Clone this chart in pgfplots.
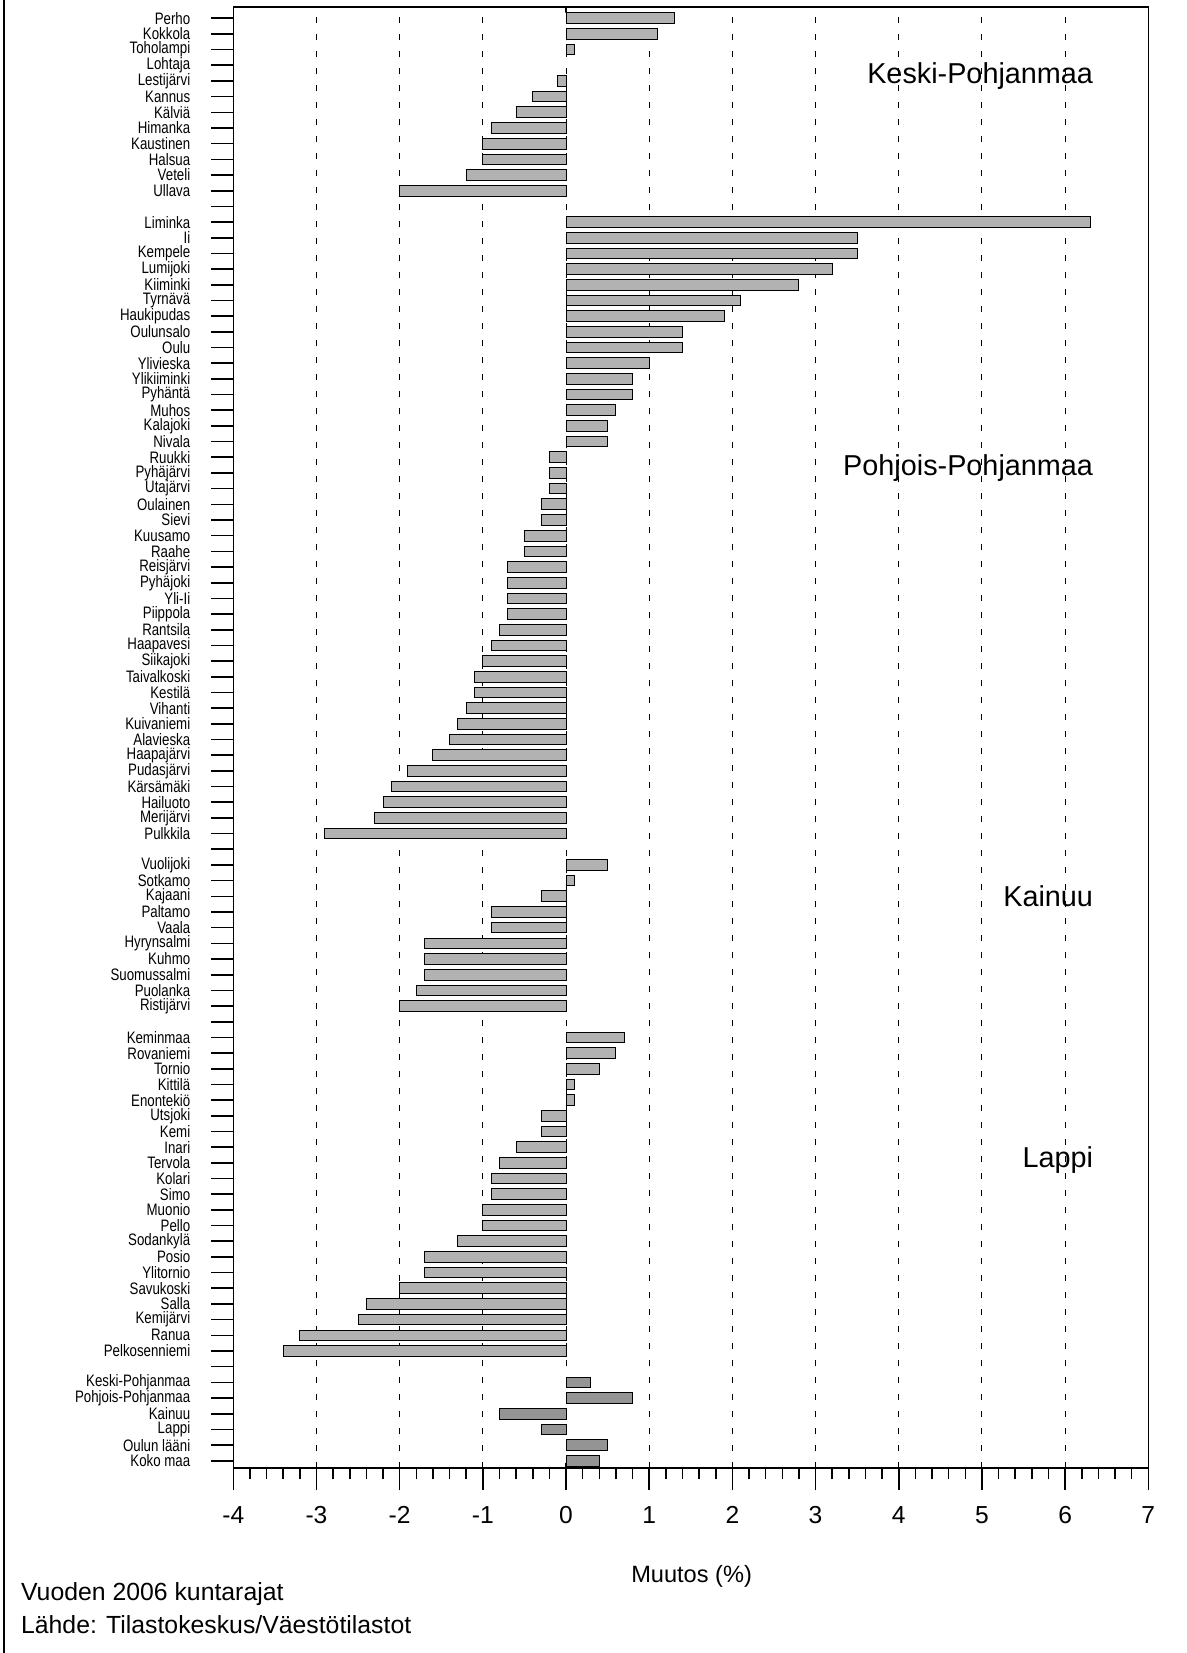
\documentclass[border=0pt]{standalone}
\usepackage{fontspec}
\setmainfont{Liberation Sans}
\newfontfamily\narrowfont[FakeStretch=0.8]{Liberation Sans}
\usepackage{pgfplots}
\pgfplotsset{compat=1.18}
\pgfplotstableread{
i v
92 1.3
91 1.1
90 0.1
88 -0.1
87 -0.4
86 -0.6
85 -0.9
84 -1.0
83 -1.0
82 -1.2
81 -2.0
79 6.3
78 3.5
77 3.5
76 3.2
75 2.8
74 2.1
73 1.9
72 1.4
71 1.4
70 1.0
69 0.8
68 0.8
67 0.6
66 0.5
65 0.5
64 -0.2
63 -0.2
62 -0.2
61 -0.3
60 -0.3
59 -0.5
58 -0.5
57 -0.7
56 -0.7
55 -0.7
54 -0.7
53 -0.8
52 -0.9
51 -1.0
50 -1.1
49 -1.1
48 -1.2
47 -1.3
46 -1.4
45 -1.6
44 -1.9
43 -2.1
42 -2.2
41 -2.3
40 -2.9
38 0.5
37 0.1
36 -0.3
35 -0.9
34 -0.9
33 -1.7
32 -1.7
31 -1.7
30 -1.8
29 -2.0
27 0.7
26 0.6
25 0.4
24 0.1
23 0.1
22 -0.3
21 -0.3
20 -0.6
19 -0.8
18 -0.9
17 -0.9
16 -1.0
15 -1.0
14 -1.3
13 -1.7
12 -1.7
11 -2.0
10 -2.4
9 -2.5
8 -3.2
7 -3.4
}\kunnat
\pgfplotstableread{
i v
5 0.3
4 0.8
3 -0.8
2 -0.3
1 0.5
0 0.4
}\alueet
\begin{document}
\begin{tikzpicture}
\path[use as bounding box] (0,0) rectangle (593.5pt,826.5pt);
\draw[line width=0.8pt] (2pt,0) -- (2pt,826.5pt);
\begin{axis}[
  at={(116.65pt,92.35pt)}, anchor=south west,
  scale only axis, width=457.5pt, height=730.5pt,
  xmin=-4, xmax=7, ymin=-0.48, ymax=92.7,
  xbar, bar width=0.68, bar shift=0pt,
  xtick={-4,-3,-2,-1,0,1,2,3,4,5,6,7},
  xticklabels={-4,-3,-2,-1,0,1,2,3,4,5,6,7},
  minor x tick num=4,
  xtick pos=left, ytick pos=left,
  tick align=outside,
  major tick length=11pt, minor tick length=5.5pt,
  ytick={0,...,92},
  yticklabels={Koko maa,Oulun lääni,Lappi,Kainuu,Pohjois-Pohjanmaa,Keski-Pohjanmaa,{},
    Pelkosenniemi,Ranua,Kemijärvi,Salla,Savukoski,Ylitornio,Posio,Sodankylä,Pello,Muonio,Simo,Kolari,Tervola,Inari,Kemi,Utsjoki,Enontekiö,Kittilä,Tornio,Rovaniemi,Keminmaa,{},
    Ristijärvi,Puolanka,Suomussalmi,Kuhmo,Hyrynsalmi,Vaala,Paltamo,Kajaani,Sotkamo,Vuolijoki,{},
    Pulkkila,Merijärvi,Hailuoto,Kärsämäki,Pudasjärvi,Haapajärvi,Alavieska,Kuivaniemi,Vihanti,Kestilä,Taivalkoski,Siikajoki,Haapavesi,Rantsila,Piippola,Yli-Ii,Pyhäjoki,Reisjärvi,Raahe,Kuusamo,Sievi,Oulainen,Utajärvi,Pyhäjärvi,Ruukki,Nivala,Kalajoki,Muhos,Pyhäntä,Ylikiiminki,Ylivieska,Oulu,Oulunsalo,Haukipudas,Tyrnävä,Kiiminki,Lumijoki,Kempele,Ii,Liminka,{},
    Ullava,Veteli,Halsua,Kaustinen,Himanka,Kälviä,Kannus,Lestijärvi,Lohtaja,Toholampi,Kokkola,Perho},
  yticklabel style={font=\narrowfont\fontsize{8.3}{8.3}\selectfont, xshift=-7pt},
  xticklabel style={font=\fontsize{12.3}{13}\selectfont, yshift=-4.5pt},
  xmajorgrids,
  major grid style={black, line width=0.5pt, dash pattern=on 3pt off 5.5pt},
  axis line style={line width=0.8pt},
  every tick/.style={black, line width=0.8pt},
]
\addplot[no marks, black, line width=0.8pt, forget plot] coordinates {(0,-0.48) (0,92.7)};
\addplot[fill=black!30, draw=black, line width=0.5pt] table[x=v, y=i] {\kunnat};
\addplot[fill=black!42, draw=black, line width=0.5pt] table[x=v, y=i] {\alueet};
\node[anchor=east, font=\fontsize{14.4}{16}\selectfont] at (axis cs:6.42,88.3) {Keski-Pohjanmaa};
\node[anchor=east, font=\fontsize{14.4}{16}\selectfont] at (axis cs:6.42,63.3) {Pohjois-Pohjanmaa};
\node[anchor=east, font=\fontsize{14.4}{16}\selectfont] at (axis cs:6.42,36.0) {Kainuu};
\node[anchor=east, font=\fontsize{14.4}{16}\selectfont] at (axis cs:6.42,19.2) {Lappi};
\end{axis}
\node[font=\fontsize{11.8}{14}\selectfont] at (345.8pt,38.15pt) {Muutos (\%)};
\node[anchor=west, inner sep=0pt, font=\fontsize{12.4}{14}\selectfont] at (10.35pt,29.5pt) {Vuoden 2006 kuntarajat};
\node[anchor=west, inner sep=0pt, font=\fontsize{12.4}{14}\selectfont] at (10.35pt,14pt) {Lähde: Tilastokeskus/Väestötilastot};
\end{tikzpicture}
\end{document}
